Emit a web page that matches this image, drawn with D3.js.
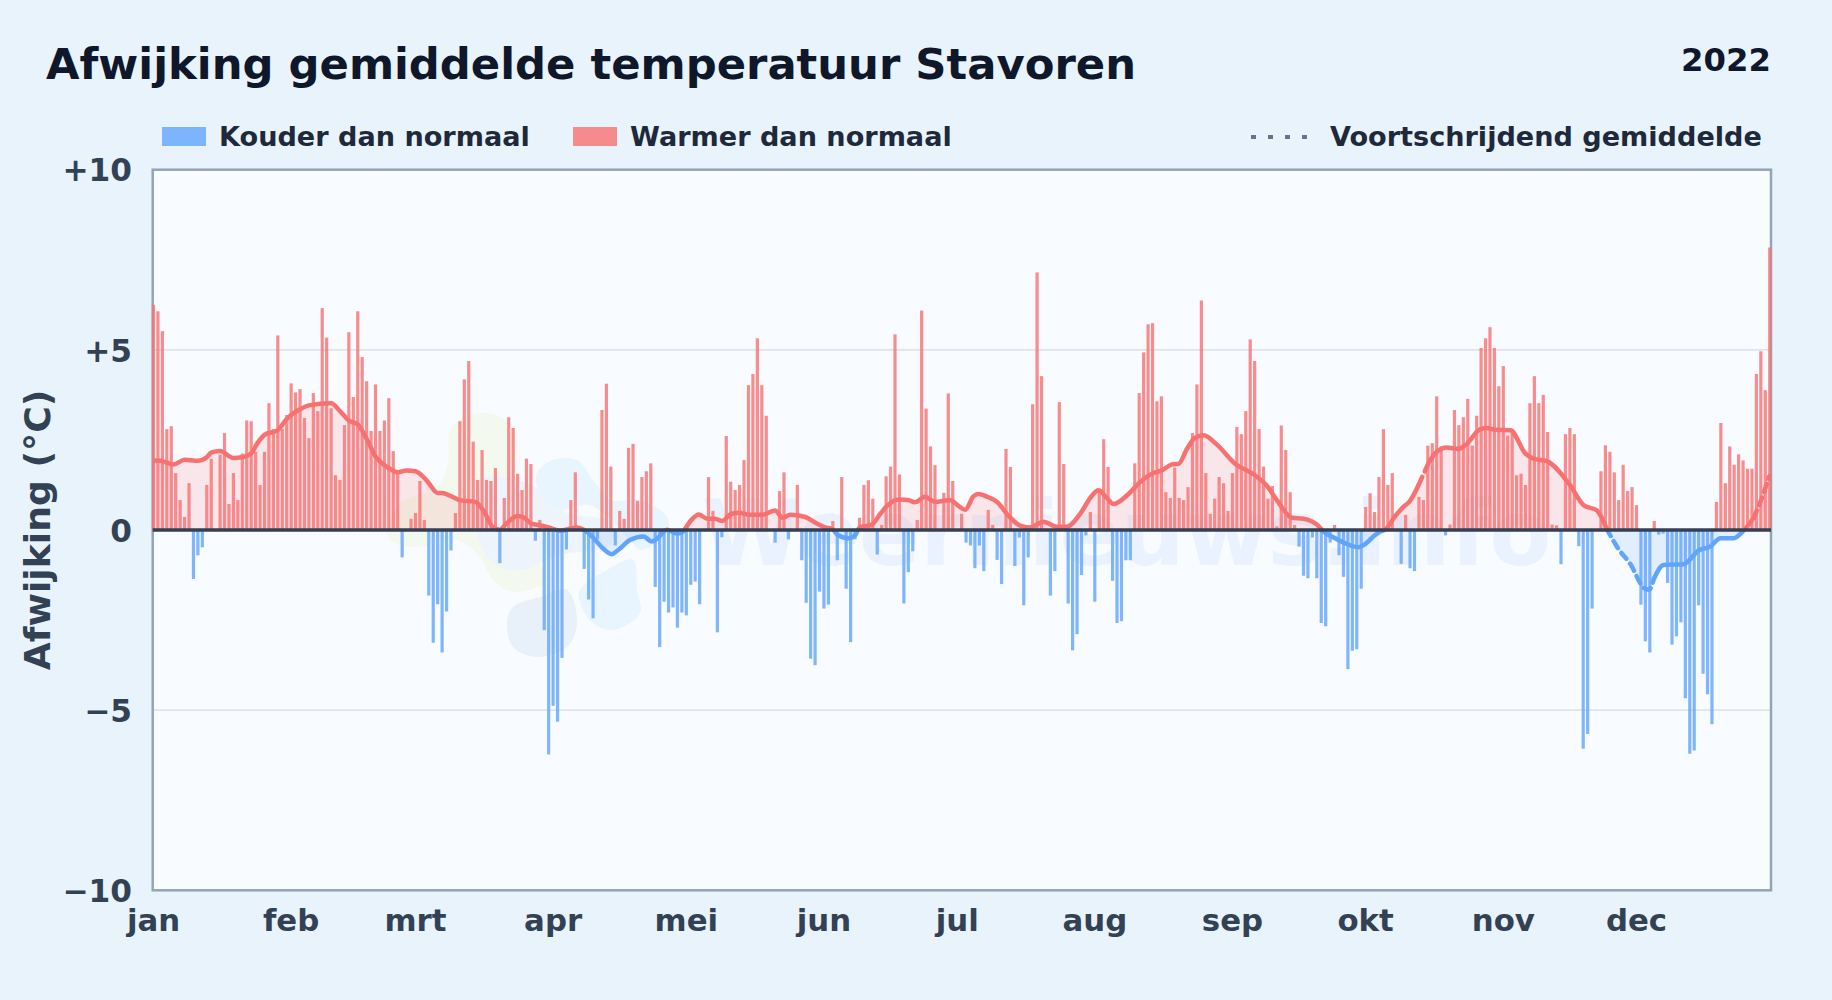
<!DOCTYPE html>
<html>
<head>
<meta charset="utf-8">
<script src="https://cdn.jsdelivr.net/npm/d3@7"></script>
<style>
  body { margin: 0; background: #e8f3fc; }
  text { font-family: "DejaVu Sans", sans-serif; font-weight: bold; }
</style>
</head>
<body>
<div id="chart"></div>
<script>
// daily deviation from normal (degrees C), day 0 = 1 jan
var afwijking = [
  6.25,6.07,5.52,2.80,2.88,1.58,0.83,0.36,1.30,-1.36,
  -0.70,-0.48,1.25,1.97,0,2.09,2.69,0.72,1.58,0.83,
  2.12,3.04,3.02,2.17,1.25,2.17,3.52,2.80,5.40,2.80,
  3.19,4.07,3.82,3.91,3.11,2.55,3.80,3.30,6.16,5.34,
  3.38,1.52,1.39,2.91,5.49,3.69,6.07,4.80,4.13,2.75,
  4.04,2.75,3.04,3.66,2.19,1.60,-0.76,0,0.31,0.47,
  1.36,0.28,-1.82,-3.13,-2.06,-3.40,-2.26,-0.57,0.47,3.02,
  4.18,4.69,2.45,1.39,2.22,1.39,1.36,1.72,-0.92,0.89,
  3.13,2.83,1.56,1.11,1.98,1.83,-0.30,0.28,-2.78,-6.23,
  -4.88,-5.32,-3.55,-0.54,0.83,1.60,0,-1.08,-1.93,-2.45,
  -0.26,3.33,4.06,1.76,-0.43,0.53,0.31,2.28,2.39,0.81,
  1.47,1.63,1.85,-1.58,-3.25,-1.99,-2.29,-2.15,-2.71,-2.29,
  -2.37,-1.52,-1.43,-2.06,0,1.47,0.53,-2.84,-0.20,2.61,
  1.34,1.11,1.25,1.94,4.02,4.33,5.32,4.02,3.17,0,
  -0.35,1.08,1.60,-0.26,0,1.25,-0.84,-2.02,-3.57,-3.75,
  -1.71,-2.18,-2.07,0.25,-0.84,1.47,-1.63,-3.11,-0.26,0.34,
  1.25,1.38,0.87,-0.68,0.14,1.49,1.76,5.43,1.54,-2.04,
  -1.17,-0.59,0.28,6.09,3.37,2.32,1.80,0,1.03,3.79,
  1.36,0,0.45,-0.35,-0.43,-1.06,-0.43,-1.14,0.56,0.14,
  -0.83,-1.50,2.25,1.75,-1.00,-0.21,-2.09,-0.76,3.49,7.15,
  4.27,0,-1.82,-1.14,3.55,1.83,-2.04,-3.34,-2.89,-1.25,
  -0.15,0.50,-1.99,1.10,2.52,1.75,-1.41,-2.58,-2.53,-0.84,
  -0.84,1.85,3.80,4.93,5.71,5.74,3.57,3.71,1.05,0.89,
  1.73,0.89,0.83,1.19,2.69,4.04,6.37,1.58,0.45,0.87,
  1.47,1.30,0.53,1.58,2.86,2.66,3.30,5.29,4.69,2.80,
  1.76,0.87,1.22,0.10,2.90,2.22,1.05,0.14,-0.46,-1.27,
  -1.34,-0.21,-1.34,-2.58,-2.67,-0.35,0.14,-0.70,-1.30,-3.86,
  -3.35,-3.31,-1.63,0.64,1.02,0.50,1.47,2.80,1.25,1.58,
  0,-0.94,0.42,-1.06,-1.14,0.92,0.83,2.34,2.41,3.71,
  2.32,-0.15,0.15,3.33,2.91,3.13,3.64,2.34,3.17,5.05,
  5.32,5.63,5.05,3.99,4.55,2.62,2.80,1.52,1.56,1.25,
  3.52,4.27,3.52,3.75,2.72,0.15,0.13,-0.95,2.66,2.83,
  2.66,-0.45,-6.07,-5.66,-2.18,0,1.63,2.35,2.17,1.60,
  0.83,1.81,1.08,1.19,0.69,-2.07,-3.09,-3.40,0.25,-0.13,
  -0.10,-1.47,-3.18,-2.95,-2.56,-4.67,-6.21,-6.12,-2.09,-3.99,
  -4.56,-5.39,0.78,2.97,1.30,2.32,1.81,2.10,1.93,1.70,
  1.70,4.33,4.96,3.88,7.84
];

// moving average, read at the points where the line bends
var gemDagen = [0,1,3,4.5,7,10,12,13,15,18,20,22,23.3,25,28,30,33,35,40,42,44,46,48,50,52.5,55,57,59,61.5,64,65,67,69,72.5,74.5,76.5,78,79.5,82,83.5,85,87,89,91.6,94,95.4,97,99,101,103.2,104.8,107.3,110.4,112.2,113.7,115.6,117.9,119,121,122.8,124.6,126.5,128.1,130.2,132,134.4,137.4,140,141.7,143.4,146.8,149.4,151.3,152.8,154,156.5,158,159,161.8,163.7,165.2,167.8,170,171.5,173.8,176,179.4,181.3,182.8,184.7,185.8,188,190,192.6,195.2,197.4,200.4,203.5,205.7,208.7,211.3,212.8,214.7,216.2,219.6,222.2,225.2,227,229.4,230.9,232.8,234.6,236.5,239.5,243.6,247.8,250.8,253,256.4,259,262,263.5,265.8,268.8,271.4,272.9,275.2,276.3,277.4,279.7,281.5,283,285,287.2,289,291.3,293.9,295.8,298.8,300.3,302.2,305.6,309,310.8,313.8,319,322.1,325.1,327.3,330,332.6,335.6,336.8,337.9,340.1,344.6,348,350.6,352.9,355.9,358.1,360.4,361.9,363.9];
var gemWaarden = [1.93,1.93,1.87,1.82,1.95,1.92,2.02,2.15,2.19,2.00,2.02,2.12,2.39,2.64,2.77,3.08,3.35,3.46,3.52,3.30,3.04,2.93,2.53,2.04,1.76,1.60,1.65,1.63,1.38,1.03,1.03,0.94,0.83,0.78,0.50,0.07,0.01,0.18,0.39,0.34,0.18,0.13,0.07,-0.02,0.04,0.07,0,-0.21,-0.48,-0.67,-0.54,-0.28,-0.18,-0.32,-0.21,0.01,-0.10,-0.07,0.26,0.43,0.32,0.31,0.25,0.45,0.48,0.42,0.43,0.54,0.34,0.42,0.36,0.18,0.07,0.04,-0.13,-0.23,-0.15,0.07,0.15,0.45,0.67,0.85,0.83,0.77,0.92,0.78,0.83,0.67,0.56,0.94,1.00,0.91,0.78,0.39,0.12,0.07,0.23,0.09,0.09,0.45,0.94,1.10,0.89,0.72,1.00,1.33,1.58,1.65,1.82,1.84,2.26,2.56,2.63,2.37,1.84,1.54,1.22,0.83,0.34,0.31,0.15,-0.04,-0.21,-0.39,-0.48,-0.39,-0.13,-0.04,0.01,0.39,0.64,0.81,1.27,1.87,2.17,2.29,2.25,2.39,2.80,2.83,2.78,2.77,2.12,1.98,1.91,1.25,0.69,0.54,0.03,-0.54,-0.94,-1.60,-1.66,-1.36,-0.97,-0.95,-0.57,-0.46,-0.23,-0.23,-0.02,0.34,0.78,1.49];
// stretches of the line that are dashed in the original
var gestreept = [[285,287.2],[327.3,337.9],[360.4,363.9]];

var maanden = ["jan","feb","mrt","apr","mei","jun","jul","aug","sep","okt","nov","dec"];
var maandStart = [0,31,59,90,120,151,181,212,243,273,304,334];
var yTicks = [10,5,0,-5,-10];
var gridWaarden = [5,-5];

var kleurKoud = "#60a5fa", kleurWarm = "#f87171";

var svg = d3.select("#chart").append("svg").attr("width", 1832).attr("height", 1000)
  .style("display", "block");

svg.append("rect").attr("width", 1832).attr("height", 1000).attr("fill", "#e8f3fc");

var xLeft = 152.7, xRight = 1771, yTop = 169.7, yBottom = 890.3;
var x = d3.scaleLinear().domain([0, 364]).range([153.5, 1769.7]);
var y = d3.scaleLinear().domain([-10, 10]).range([yBottom, yTop]);

// plot background
svg.append("rect").attr("x", xLeft).attr("y", yTop).attr("width", xRight - xLeft).attr("height", yBottom - yTop)
  .attr("fill", "#f8fbff");

// watermark: logo blobs and site name, faint and behind everything
var blobs = [
  {fill: "#f3f9ef", pts: [[450,430],[463,418],[487,413],[508,422],[517,447],[513,470],[520,520],[540,563],[547,580],[513,592],[493,580],[480,557],[457,540],[413,547],[390,540],[387,530],[400,503],[437,487],[448,463]]},
  {fill: "#edf4fb", pts: [[480,480],[527,483],[567,513],[593,517],[613,523],[610,545],[560,555],[520,570],[490,560],[475,520]]},
  {fill: "#e8f4fe", pts: [[537,473],[553,460],[577,460],[593,480],[610,500],[640,500],[667,517],[667,533],[640,550],[630,540],[590,505],[560,510],[540,495]]},
  {fill: "#e8f4fe", pts: [[580,590],[607,570],[633,560],[637,590],[640,613],[613,630],[593,623],[580,603]]},
  {fill: "#e8f0f9", pts: [[507,623],[513,607],[540,597],[567,590],[577,623],[567,647],[537,657],[513,647]]}
];
var blobLine = d3.line().curve(d3.curveCatmullRomClosed);
svg.append("g").selectAll("path").data(blobs).enter().append("path")
  .attr("d", function(d) { return blobLine(d.pts); })
  .attr("fill", function(d) { return d.fill; });

svg.append("text").attr("x", 702).attr("y", 565)
  .attr("font-size", 90).attr("fill", "#3b82f6").attr("opacity", 0.07)
  .text("Weernieuws.info");

// grid
svg.append("g").selectAll("line").data(gridWaarden).enter().append("line")
  .attr("x1", xLeft).attr("x2", xRight)
  .attr("y1", function(d) { return y(d); }).attr("y2", function(d) { return y(d); })
  .attr("stroke", "#dfe4eb").attr("stroke-width", 1.7);

// frame
svg.append("rect").attr("x", xLeft).attr("y", yTop).attr("width", xRight - xLeft).attr("height", yBottom - yTop)
  .attr("fill", "none").attr("stroke", "#94a3b8").attr("stroke-width", 2.5);

// clip the average into a warm and a cold half
var defs = svg.append("defs");
defs.append("clipPath").attr("id", "boven").append("rect")
  .attr("x", xLeft).attr("y", yTop).attr("width", xRight - xLeft).attr("height", y(0) - yTop);
defs.append("clipPath").attr("id", "onder").append("rect")
  .attr("x", xLeft).attr("y", y(0)).attr("width", xRight - xLeft).attr("height", yBottom - y(0));

var gem = gemDagen.map(function(d, i) { return {dag: d, waarde: gemWaarden[i]}; });

var area = d3.area().curve(d3.curveMonotoneX)
  .x(function(d) { return x(d.dag); })
  .y0(y(0))
  .y1(function(d) { return y(d.waarde); });

// bars
svg.append("g").selectAll("rect").data(afwijking).enter().append("rect")
  .attr("x", function(d, i) { return x(i) - 1.6; })
  .attr("width", 3.2)
  .attr("y", function(d) { return y(Math.max(d, 0)); })
  .attr("height", function(d) { return Math.abs(y(d) - y(0)); })
  .attr("fill", function(d) { return d < 0 ? kleurKoud : kleurWarm; })
  .attr("opacity", 0.8);

[["boven", kleurWarm], ["onder", kleurKoud]].forEach(function(c) {
  svg.append("path").datum(gem).attr("clip-path", "url(#" + c[0] + ")")
    .attr("d", area).attr("fill", c[1]).attr("opacity", 0.15);
});

// line: cut into solid and dashed pieces
var lijn = d3.line().curve(d3.curveMonotoneX)
  .x(function(d) { return x(d.dag); })
  .y(function(d) { return y(d.waarde); });

var stukken = [], vanaf = 0;
gestreept.forEach(function(g) {
  stukken.push({dash: false, van: vanaf, tot: g[0]});
  stukken.push({dash: true, van: g[0], tot: g[1]});
  vanaf = g[1];
});
stukken.push({dash: false, van: vanaf, tot: 364});

[["boven", kleurWarm], ["onder", kleurKoud]].forEach(function(c) {
  stukken.forEach(function(s) {
    var pts = gem.filter(function(d) { return d.dag >= s.van && d.dag <= s.tot; });
    svg.append("path").datum(pts).attr("clip-path", "url(#" + c[0] + ")")
      .attr("d", lijn).attr("fill", "none").attr("stroke", c[1])
      .attr("stroke-width", 4.5).attr("stroke-linejoin", "round")
      .attr("stroke-linecap", s.dash ? "round" : "butt")
      .attr("stroke-dasharray", s.dash ? "8 6" : null);
  });
});

// zero line
svg.append("line").attr("x1", xLeft).attr("x2", xRight).attr("y1", y(0)).attr("y2", y(0))
  .attr("stroke", "#334155").attr("stroke-width", 3.5);

// axes
var yAxis = d3.axisLeft(y).tickValues(yTicks).tickSize(0).tickPadding(0)
  .tickFormat(function(d) { return d > 0 ? "+" + d : d < 0 ? "\u2212" + Math.abs(d) : "0"; });
var gy = svg.append("g").attr("transform", "translate(132,0)").call(yAxis);
gy.select(".domain").remove();
gy.selectAll("text").attr("font-family", "DejaVu Sans").attr("font-weight", "bold")
  .attr("font-size", 31.2).attr("fill", "#334155").attr("dy", "0.36em");

var xAxis = d3.axisBottom(x).tickValues(maandStart).tickSize(0).tickPadding(0)
  .tickFormat(function(d, i) { return maanden[i]; });
var gx = svg.append("g").attr("transform", "translate(-0.5,931)").call(xAxis);
gx.select(".domain").remove();
gx.selectAll("text").attr("font-family", "DejaVu Sans").attr("font-weight", "bold")
  .attr("font-size", 30.8).attr("fill", "#334155").attr("dy", 0).attr("y", 0);

svg.append("text").attr("transform", "translate(50,530) rotate(-90)")
  .attr("text-anchor", "middle").attr("font-size", 36.2).attr("fill", "#334155")
  .text("Afwijking (\u00b0C)");

// title
svg.append("text").attr("x", 46).attr("y", 79).attr("font-size", 43.3).attr("fill", "#0f172a")
  .text("Afwijking gemiddelde temperatuur Stavoren");
svg.append("text").attr("x", 1771).attr("y", 70.5).attr("text-anchor", "end").attr("font-size", 32.3).attr("fill", "#0f172a")
  .text("2022");

// legend
var legenda = [
  {x: 162, kleur: kleurKoud, tekst: "Kouder dan normaal"},
  {x: 573, kleur: kleurWarm, tekst: "Warmer dan normaal"}
];
legenda.forEach(function(l) {
  svg.append("rect").attr("x", l.x).attr("y", 127).attr("width", 44).attr("height", 19)
    .attr("fill", l.kleur).attr("opacity", 0.8);
  svg.append("text").attr("x", l.x + 57).attr("y", 146).attr("font-size", 27.1).attr("fill", "#1e293b").text(l.tekst);
});
svg.append("line").attr("x1", 1251).attr("x2", 1308).attr("y1", 137).attr("y2", 137)
  .attr("stroke", "#64748b").attr("stroke-width", 4).attr("stroke-dasharray", "5 12");
svg.append("text").attr("x", 1330).attr("y", 146).attr("font-size", 27.1).attr("fill", "#1e293b").text("Voortschrijdend gemiddelde");
</script>
</body>
</html>
